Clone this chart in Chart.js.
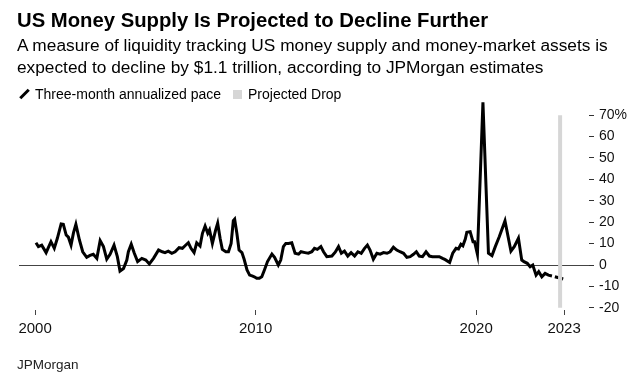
<!DOCTYPE html>
<html>
<head>
<meta charset="utf-8">
<script src="https://cdn.jsdelivr.net/npm/chart.js@4.4.0/dist/chart.umd.min.js"></script>
<style>
  body { margin: 0; background: #fff; font-family: "Liberation Sans", Arial, sans-serif; color: #000; }
  #wrap { position: relative; width: 643px; height: 386px; overflow: hidden; }
  #chart { position: absolute; left: 0; top: 0; }
  .txt { position: absolute; left: 17px; white-space: nowrap; }
  #title { top: 8px; font-size: 20.3px; line-height: 24px; font-weight: bold; }
  #subtitle { top: 34px; font-size: 17.3px; line-height: 22px; }
  #legend { top: 85px; font-size: 14px; line-height: 16px; left: 19px; }
  #legend span { display: inline-block; vertical-align: middle; }
  .lineIcon { width: 3px; height: 12px; background: #000; transform: rotate(45deg); margin: 0 9px 0 4px; }
  .boxIcon { width: 9px; height: 9px; background: #d6d6d6; margin: 0 6px 0 12px; }
  #source { top: 357px; font-size: 13.5px; line-height: 16px; color: #222; }
</style>
</head>
<body>
<div id="wrap">
  <canvas id="chart" width="643" height="386"></canvas>
  <div class="txt" id="title">US Money Supply Is Projected to Decline Further</div>
  <div class="txt" id="subtitle">A measure of liquidity tracking US money supply and money-market assets is<br>expected to decline by $1.1 trillion, according to JPMorgan estimates</div>
  <div class="txt" id="legend"><span class="lineIcon"></span><span>Three-month annualized pace</span><span class="boxIcon"></span><span>Projected Drop</span></div>
  <div class="txt" id="source">JPMorgan</div>
</div>
<script>
/* Three-month annualized pace, % (dates as decimal years) */
const dates = [
  2000.04, 2000.15, 2000.30, 2000.50, 2000.72, 2000.87, 2001.01, 2001.18, 2001.28, 2001.41,
  2001.51, 2001.63, 2001.74, 2001.85, 2002.01, 2002.16, 2002.34, 2002.49, 2002.64, 2002.80,
  2002.95, 2003.10, 2003.25, 2003.40, 2003.58, 2003.73, 2003.85, 2004.01, 2004.16, 2004.23,
  2004.36, 2004.50, 2004.65, 2004.84, 2005.02, 2005.18, 2005.37, 2005.60, 2005.77, 2005.89,
  2006.04, 2006.20, 2006.35, 2006.53, 2006.68, 2006.80, 2006.95, 2007.07, 2007.21, 2007.33,
  2007.48, 2007.59, 2007.71, 2007.83, 2007.91, 2008.04, 2008.19, 2008.28, 2008.39, 2008.49,
  2008.65, 2008.77, 2008.89, 2008.99, 2009.05, 2009.15, 2009.25, 2009.38, 2009.48, 2009.61,
  2009.73, 2009.84, 2009.94, 2010.05, 2010.17, 2010.28, 2010.40, 2010.54, 2010.74, 2010.86,
  2011.03, 2011.14, 2011.26, 2011.37, 2011.49, 2011.64, 2011.79, 2011.95, 2012.06, 2012.24,
  2012.39, 2012.55, 2012.67, 2012.80, 2012.96, 2013.08, 2013.23, 2013.46, 2013.61, 2013.76,
  2013.89, 2014.03, 2014.18, 2014.33, 2014.49, 2014.64, 2014.79, 2014.94, 2015.07, 2015.19,
  2015.34, 2015.50, 2015.65, 2015.80, 2015.96, 2016.10, 2016.25, 2016.40, 2016.55, 2016.71,
  2016.86, 2017.01, 2017.16, 2017.29, 2017.42, 2017.57, 2017.73, 2017.88, 2018.02, 2018.18,
  2018.33, 2018.48, 2018.60, 2018.80, 2018.94, 2019.09, 2019.20, 2019.31, 2019.40, 2019.51,
  2019.58, 2019.73, 2019.86, 2019.93, 2020.06, 2020.31, 2020.56, 2020.72, 2020.87, 2021.05,
  2021.31, 2021.58, 2021.73, 2021.92, 2022.07, 2022.17, 2022.32, 2022.45, 2022.57, 2022.72,
  2022.84, 2022.98, 2023.13, 2023.28, 2023.44
];
const pace = [
  10.4, 8.6, 9.3, 5.8, 10.9, 7.8, 12.5, 19.2, 19.0, 14.0,
  13.0, 9.3, 15.0, 19.0, 11.7, 6.2, 3.6, 4.5, 5.0, 3.1,
  11.4, 8.6, 2.7, 5.0, 9.3, 3.9, -2.8, -1.6, 2.3, 6.2,
  9.7, 5.5, 1.6, 3.1, 2.3, 0.5, 3.1, 7.0, 6.2, 5.8,
  6.5, 5.5, 6.2, 8.1, 7.8, 9.0, 10.4, 7.8, 5.8, 10.4,
  8.9, 14.8, 18.2, 14.8, 16.4, 10.1, 16.4, 19.5, 12.5, 7.3,
  6.2, 6.2, 10.1, 20.7, 21.4, 14.8, 7.0, 5.8, 2.7, -2.3,
  -4.7, -5.1, -5.5, -6.2, -6.2, -5.5, -2.3, 1.6, 5.1, 3.6,
  0.0, 2.3, 8.6, 10.1, 10.1, 10.4, 5.5, 5.1, 6.2, 5.8,
  5.5, 6.2, 7.8, 7.3, 8.6, 6.2, 3.9, 4.2, 6.0, 8.6,
  5.5, 6.5, 4.2, 5.8, 4.2, 6.2, 5.5, 7.8, 9.3, 7.0,
  2.7, 5.5, 5.1, 5.8, 5.5, 6.2, 8.3, 7.0, 6.2, 5.5,
  3.6, 3.9, 5.0, 6.2, 4.2, 3.9, 6.2, 4.2, 3.9, 3.9,
  3.9, 3.1, 2.5, 1.2, 5.5, 7.8, 7.5, 9.7, 9.0, 12.1,
  15.3, 15.6, 10.9, 10.9, 5.0, 76.0, 5.5, 4.4, 8.6, 13.2,
  20.6, 6.5, 8.6, 12.5, 2.3, 1.6, 0.8, -0.8, 0.0, -4.7,
  -3.1, -5.5, -3.9, -4.7, -5.1
];

/* JPMorgan projection to year end */
const projDates = [2023.44, 2023.95];
const projPace = [-5.1, -6.5];

/* Projected Drop marker */
const dropDate = 2023.81;
const dropRange = [-20, 70];

/* Axis ticks */
const xTickValues = [2000, 2010, 2020, 2023.99];
const xTickLabels = ['2000', '2010', '2020', '2023'];
const yTicks = [-20, -10, 0, 10, 20, 30, 40, 50, 60, 70];

Chart.defaults.font.family = '"Liberation Sans", Arial, sans-serif';
Chart.defaults.color = '#111';

const toPoints = (xs, ys) => xs.map((x, i) => ({ x: x, y: ys[i] }));

new Chart(document.getElementById('chart'), {
  type: 'line',
  data: {
    datasets: [
      {
        label: 'Projected Drop',
        data: [{ x: dropDate, y: dropRange[0] }, { x: dropDate, y: dropRange[1] }],
        borderColor: '#d6d6d6',
        borderWidth: 4,
        borderCapStyle: 'butt',
        pointRadius: 0
      },
      {
        label: 'Three-month annualized pace',
        data: toPoints(dates, pace),
        borderColor: '#000',
        borderWidth: 3,
        pointRadius: 0,
        tension: 0
      },
      {
        label: 'Projection',
        data: toPoints(projDates, projPace),
        borderColor: '#000',
        borderWidth: 3,
        borderDash: [4, 3],
        borderDashOffset: 4,
        pointRadius: 0,
        tension: 0
      }
    ]
  },
  options: {
    responsive: false,
    animation: false,
    layout: { padding: { top: 98, left: 19, right: 0, bottom: 46 } },
    plugins: {
      legend: { display: false },
      tooltip: { enabled: false }
    },
    scales: {
      x: {
        type: 'linear',
        min: 1999.27,
        max: 2025.12,
        afterBuildTicks: s => { s.ticks = xTickValues.map(v => ({ value: v })); },
        afterFit: s => { s.height = 30; },
        ticks: {
          callback: (v, i) => xTickLabels[i],
          maxRotation: 0,
          autoSkip: false,
          padding: 5,
          color: '#111',
          font: { size: 15 }
        },
        grid: { drawOnChartArea: false, tickLength: 5, color: '#444' },
        border: { display: false }
      },
      y: {
        position: 'right',
        min: -21,
        max: 78,
        afterBuildTicks: s => { s.ticks = yTicks.map(v => ({ value: v })); },
        afterFit: s => { s.width = 54; },
        ticks: {
          callback: v => (v === 70 ? '70%' : String(v)),
          padding: 5,
          color: '#111',
          font: { size: 14 }
        },
        grid: {
          color: c => (c.tick && c.tick.value === 0 ? '#444' : 'rgba(0,0,0,0)'),
          tickColor: '#333',
          tickLength: 5,
          lineWidth: 1
        },
        border: { display: false }
      }
    }
  }
});
</script>
</body>
</html>
